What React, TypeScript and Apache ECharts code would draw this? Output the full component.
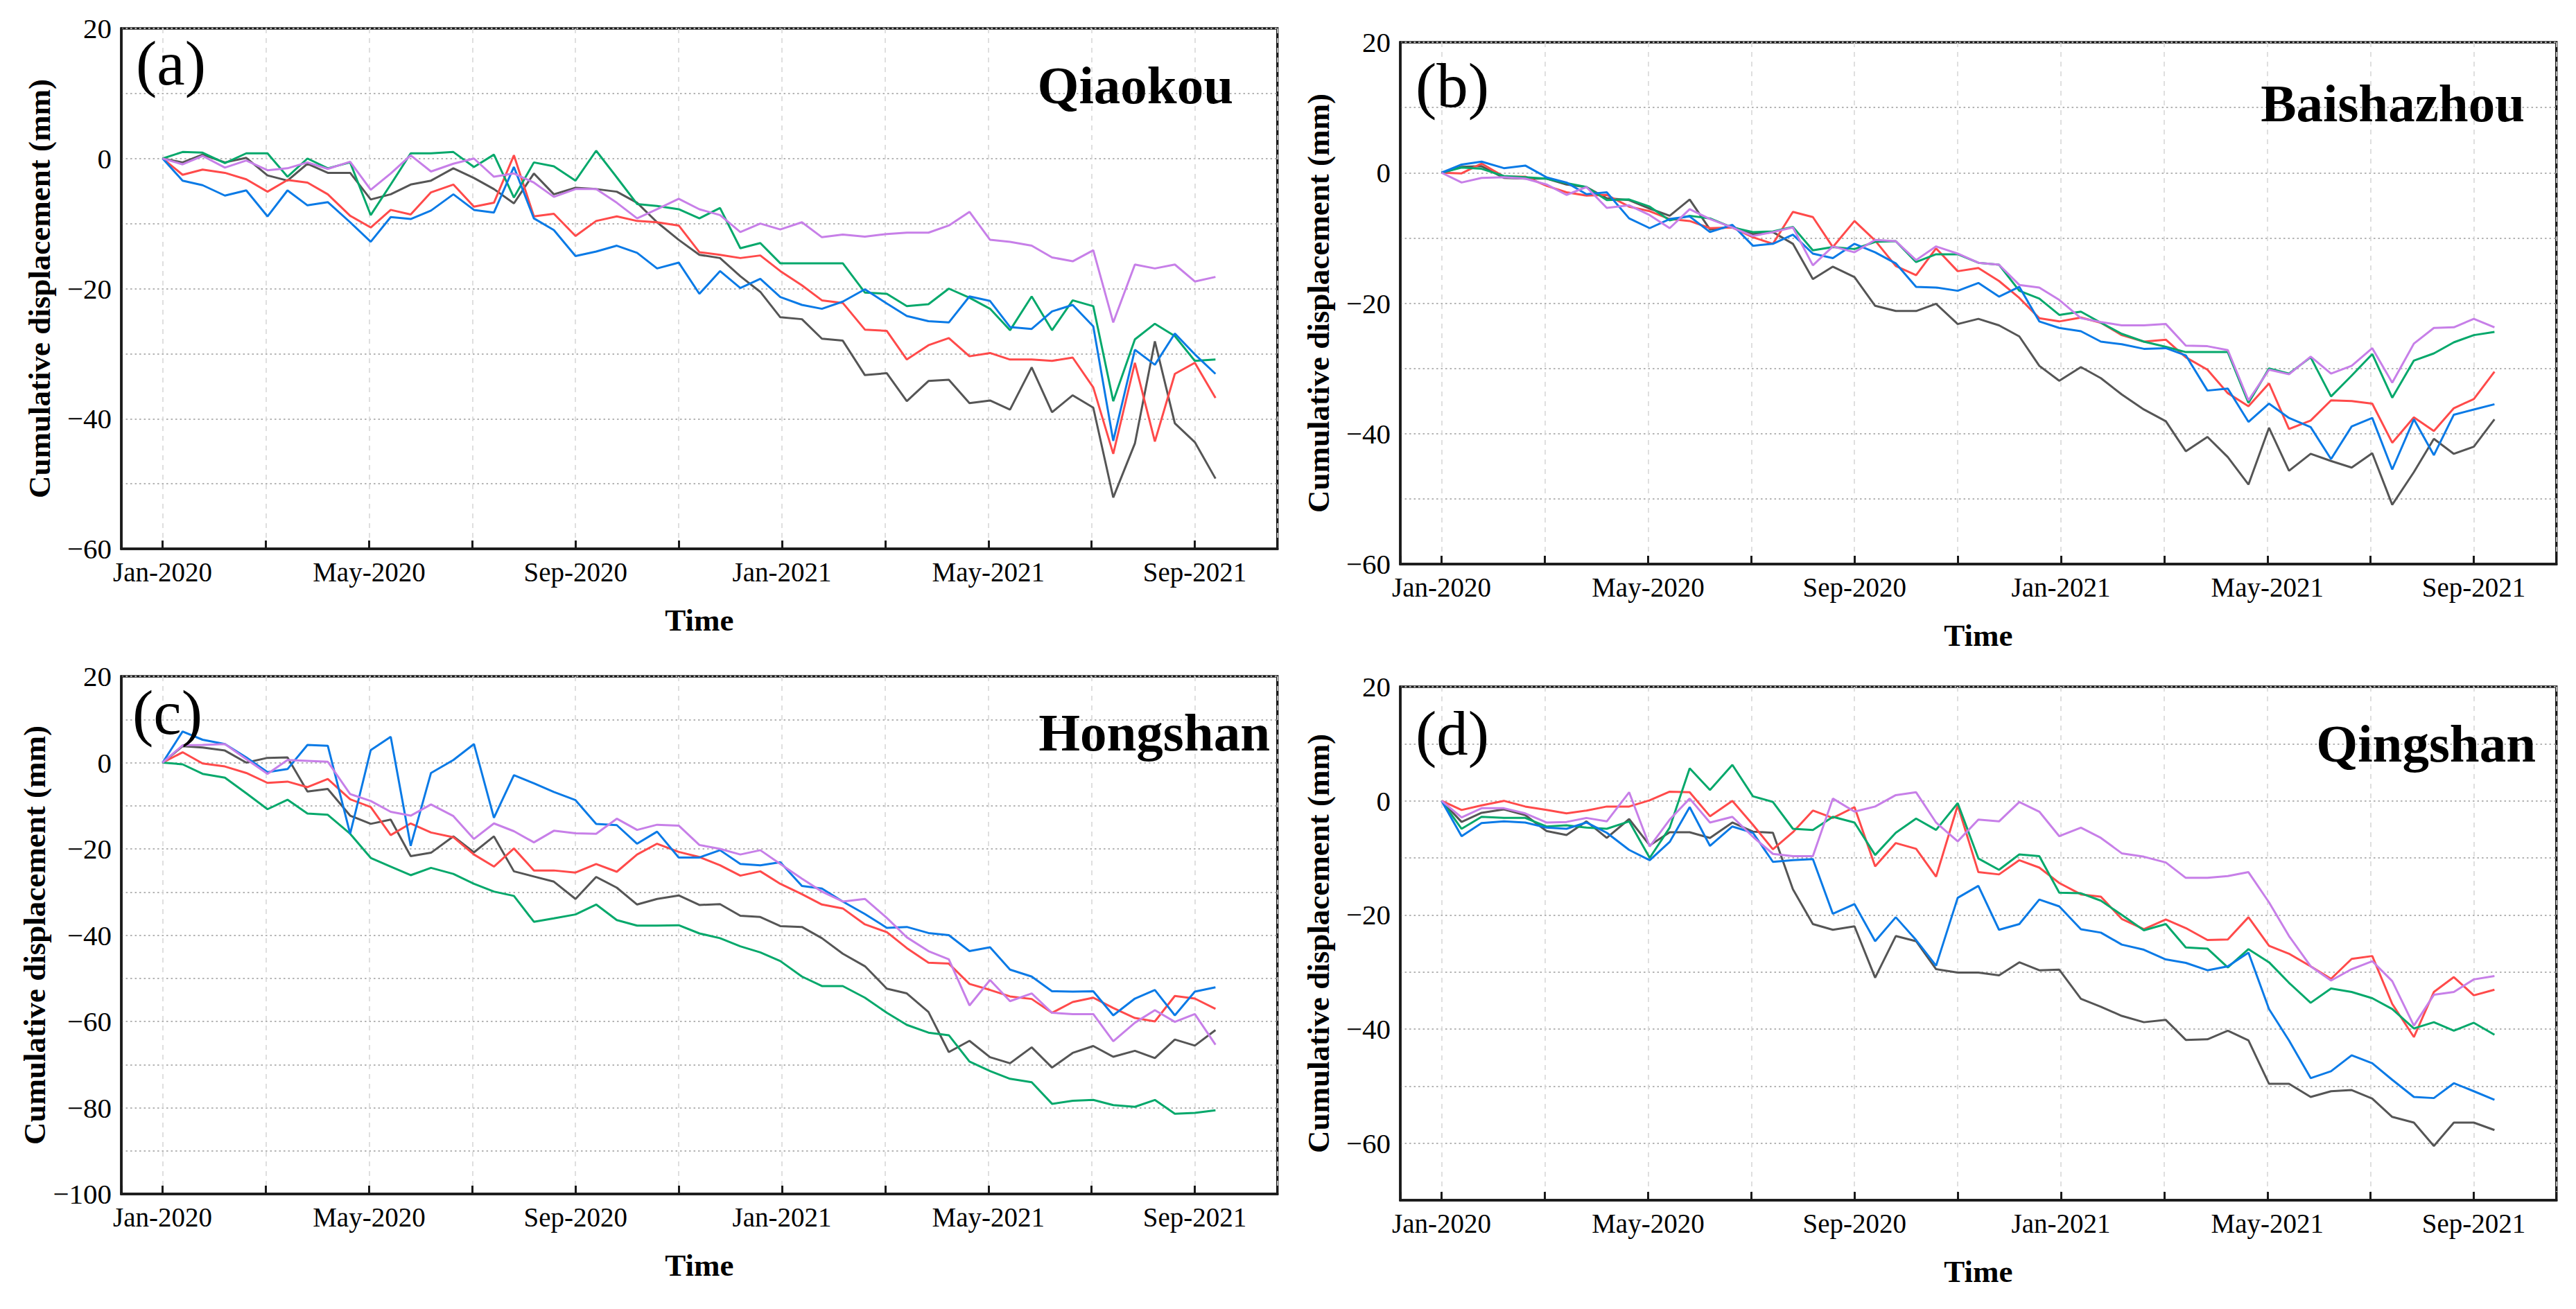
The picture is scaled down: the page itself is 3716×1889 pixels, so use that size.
import React, { useEffect, useRef } from 'react';
import * as echarts from 'echarts';

// Acquisition dates: days after 2020-01-01
const DAY_OFFSETS = [0,12,24,37,49,61,73,85,97,110,122,134,146,158,171,183,195,207,219,231,244,256,268,280,292,305,317,329,341,353,365,378,390,402,414,426,438,451,463,475,487,499,512,524,536,548,560,573,585,597,609,621];

const MONTH_NAMES = ['Jan','Feb','Mar','Apr','May','Jun','Jul','Aug','Sep','Oct','Nov','Dec'];
const STATIONS = ['Qiaokou', 'Baishazhou', 'Hongshan', 'Qingshan'];
const PANEL_TAGS = ['(a)', '(b)', '(c)', '(d)'];
const Y_MINS = [-60, -60, -100, -70];
const Y_MAX = 20;

// Panel (a) Qiaokou
const A_GRAY = [0,-0.6,0.6,-0.6,0.1,-2.6,-3.4,-0.8,-2.2,-2.2,-6.3,-5.5,-4.0,-3.4,-1.5,-3.0,-4.7,-6.9,-2.3,-5.5,-4.5,-4.7,-5.1,-6.8,-9.8,-12.5,-14.8,-15.3,-18.1,-20.5,-24.4,-24.7,-27.7,-28.0,-33.3,-33.0,-37.3,-34.2,-34.0,-37.6,-37.2,-38.6,-32.1,-39.0,-36.4,-38.3,-52.1,-43.8,-28.1,-40.7,-43.6,-49.2];
const A_RED = [0,-2.5,-1.7,-2.2,-3.2,-5.1,-3.3,-3.7,-5.5,-8.8,-10.6,-7.9,-8.6,-5.2,-4.0,-7.4,-6.8,0.5,-8.9,-8.5,-11.9,-9.6,-8.9,-9.6,-9.8,-10.3,-14.4,-14.8,-15.3,-14.9,-17.3,-19.5,-21.8,-22.2,-26.3,-26.5,-30.9,-28.7,-27.6,-30.4,-29.9,-30.9,-30.9,-31.1,-30.6,-35.2,-45.4,-31.4,-43.5,-33.1,-31.4,-36.8];
const A_GREEN = [0,1.0,0.9,-0.7,0.8,0.8,-2.8,0,-1.5,-0.6,-8.7,-4.0,0.8,0.8,1.0,-1.3,0.6,-6.0,-0.6,-1.2,-3.4,1.2,-2.9,-7.0,-7.3,-7.8,-9.2,-7.6,-13.8,-13.0,-16.1,-16.1,-16.1,-16.1,-20.6,-20.8,-22.7,-22.4,-20.0,-21.4,-23.1,-26.4,-21.2,-26.4,-21.8,-22.7,-37.3,-27.8,-25.4,-27.3,-31.1,-30.9];
const A_BLUE = [0,-3.4,-4.1,-5.7,-4.9,-8.9,-4.9,-7.2,-6.7,-9.8,-12.8,-9.0,-9.3,-8.0,-5.5,-7.9,-8.3,-1.3,-9.2,-11.0,-15.0,-14.3,-13.4,-14.5,-16.9,-16.0,-20.8,-17.3,-19.9,-18.5,-21.3,-22.5,-23.1,-22.0,-20.1,-22.3,-24.2,-25.0,-25.2,-21.2,-21.9,-25.9,-26.2,-23.5,-22.5,-25.8,-43.4,-29.4,-31.7,-26.9,-30.1,-33.1];
const A_PURPLE = [0,-0.9,0.4,-1.4,-0.3,-1.8,-1.5,-0.6,-1.6,-0.5,-4.8,-2.3,0.5,-2.0,-0.8,0,-2.8,-2.3,-3.7,-5.9,-4.7,-4.7,-6.8,-9.2,-7.8,-6.2,-7.8,-8.7,-11.3,-10.0,-10.9,-9.8,-12.1,-11.7,-12.0,-11.6,-11.4,-11.4,-10.3,-8.2,-12.5,-12.8,-13.4,-15.2,-15.8,-14.1,-25.2,-16.3,-16.9,-16.3,-18.9,-18.2];

// Panel (b) Baishazhou
const B_GRAY = [0,0.9,1.0,-0.8,-0.9,-0.9,-1.8,-2.2,-3.9,-4.2,-5.5,-6.6,-4.1,-8.7,-8.3,-9.4,-9.1,-10.9,-16.3,-14.4,-16.0,-20.4,-21.2,-21.2,-20.1,-23.2,-22.4,-23.4,-25.1,-29.6,-31.9,-29.8,-31.5,-34.0,-36.3,-38.1,-42.7,-40.5,-43.6,-47.8,-39.1,-45.7,-43.1,-44.2,-45.2,-43.0,-50.9,-45.9,-40.8,-43.1,-42.0,-37.8];
const B_RED = [0,-0.1,1.4,-0.6,-0.6,-2.0,-3.0,-3.5,-3.4,-5.2,-5.9,-7.1,-7.4,-8.5,-8.4,-9.9,-10.9,-6.0,-6.8,-11.4,-7.4,-10.4,-14.3,-15.7,-11.6,-15.1,-14.6,-16.6,-19.2,-22.3,-22.8,-22.2,-23.0,-24.9,-25.9,-25.6,-28.3,-30.2,-33.8,-35.8,-32.3,-39.3,-38.0,-34.9,-35.0,-35.4,-41.4,-37.5,-39.6,-36.1,-34.7,-30.5];
const B_GREEN = [0,0.8,0.6,-0.5,-0.7,-0.9,-1.6,-2.2,-4.2,-4.1,-5.2,-7.3,-6.6,-7.0,-8.4,-9.1,-9.0,-8.3,-11.9,-11.4,-11.7,-10.6,-10.5,-13.7,-12.5,-12.5,-13.8,-14.1,-18.1,-19.3,-21.8,-21.3,-23.0,-24.7,-25.9,-26.7,-27.5,-27.5,-27.5,-35.3,-30.0,-30.8,-28.3,-34.3,-31.1,-27.8,-34.5,-28.8,-27.7,-26.0,-24.9,-24.4];
const B_BLUE = [0,1.25,1.7,0.7,1.1,-0.7,-1.5,-3.3,-3.0,-7.0,-8.5,-7.1,-6.7,-9.1,-8.0,-11.2,-10.9,-9.5,-12.4,-13.1,-10.9,-12.2,-13.9,-17.5,-17.6,-18.1,-16.9,-19.0,-17.5,-22.8,-23.8,-24.3,-25.9,-26.3,-27.0,-26.9,-28.0,-33.4,-33.1,-38.2,-35.4,-37.6,-39.0,-43.9,-38.9,-37.6,-45.5,-37.8,-43.3,-37.1,-36.3,-35.5];
const B_PURPLE = [0,-1.5,-0.8,-0.7,-0.9,-1.8,-3.4,-2.2,-5.4,-5.0,-6.5,-8.5,-5.6,-7.1,-8.4,-9.7,-9.1,-8.4,-14.2,-11.3,-12.2,-10.3,-10.5,-13.4,-11.3,-12.4,-13.8,-14.1,-17.2,-17.6,-19.5,-22.3,-22.9,-23.4,-23.4,-23.2,-26.5,-26.6,-27.2,-34.9,-30.2,-30.9,-28.2,-30.8,-29.6,-26.9,-32.2,-26.2,-23.8,-23.7,-22.4,-23.7];

// Panel (c) Hongshan
const C_GRAY = [0,3.8,3.5,2.8,0,1.1,1.2,-6.7,-6.1,-12.3,-14.2,-13.2,-21.7,-20.9,-17.1,-20.8,-17.1,-25.2,-26.4,-27.6,-31.6,-26.5,-29.0,-32.9,-31.6,-30.8,-33.0,-32.8,-35.5,-35.8,-37.9,-38.1,-40.7,-44.3,-47.2,-52.4,-53.5,-57.8,-67.1,-64.5,-68.3,-69.7,-66.0,-70.7,-67.3,-65.7,-68.2,-66.8,-68.5,-64.2,-65.6,-62.0];
const C_RED = [0,2.4,-0.2,-0.9,-2.4,-4.7,-4.4,-5.7,-3.8,-8.5,-10.3,-16.8,-14.1,-16.2,-17.3,-21.3,-24.1,-19.9,-25.0,-25.0,-25.5,-23.5,-25.3,-21.3,-18.8,-20.7,-21.9,-23.8,-26.2,-25.2,-28.1,-30.5,-32.9,-33.8,-37.5,-39.3,-43.0,-46.4,-46.6,-51.3,-52.7,-54.2,-54.8,-58.0,-55.5,-54.5,-56.9,-59.2,-60.0,-54.1,-54.7,-57.1];
const C_GREEN = [0,-0.4,-2.6,-3.5,-7.1,-10.8,-8.6,-11.8,-12.1,-16.5,-22.1,-24.1,-26.1,-24.4,-25.8,-28.1,-29.9,-30.9,-36.9,-36.1,-35.2,-32.9,-36.5,-37.8,-37.8,-37.7,-39.6,-40.7,-42.6,-44.0,-46.0,-49.6,-51.8,-51.8,-54.5,-58.0,-60.8,-62.6,-63.2,-69.3,-71.5,-73.3,-74.1,-79.1,-78.4,-78.2,-79.4,-79.8,-78.2,-81.4,-81.2,-80.6];
const C_BLUE = [0,7.2,5.3,4.3,1.2,-2.2,-1.5,4.1,3.9,-16.5,2.9,6.0,-19.3,-2.4,0.6,4.3,-12.8,-2.9,-4.8,-6.8,-8.7,-14.2,-14.5,-18.8,-16.0,-22.0,-22.0,-20.3,-23.5,-23.8,-23.1,-28.6,-29.2,-32.2,-35.1,-38.3,-38.1,-39.5,-40.0,-43.7,-42.8,-48.0,-49.6,-53.0,-53.1,-53.0,-58.6,-54.7,-52.7,-58.6,-53.1,-52.1];
const C_PURPLE = [0,4.0,4.1,4.3,0.8,-2.6,0.6,0.4,0.2,-7.3,-8.9,-11.4,-12.3,-9.7,-12.4,-17.7,-14.1,-15.9,-18.5,-15.8,-16.4,-16.5,-13.0,-15.6,-14.4,-14.6,-19.1,-20.0,-21.3,-20.3,-23.5,-26.9,-29.9,-32.2,-31.6,-36.0,-40.5,-43.7,-45.6,-56.3,-50.4,-55.3,-53.5,-58.0,-58.3,-58.3,-64.6,-60.3,-57.4,-60.1,-58.3,-65.4];

// Panel (d) Qingshan
const D_GRAY = [0,-3.7,-2.1,-1.5,-2.5,-5.3,-6.0,-3.6,-6.5,-3.2,-7.8,-5.5,-5.5,-6.5,-3.8,-5.4,-5.6,-15.5,-21.6,-22.6,-22.0,-31.0,-23.7,-24.6,-29.5,-30.1,-30.1,-30.6,-28.3,-29.7,-29.6,-34.7,-36.1,-37.7,-38.8,-38.4,-41.9,-41.8,-40.3,-42.0,-49.6,-49.6,-51.9,-50.9,-50.7,-52.2,-55.4,-56.4,-60.5,-56.4,-56.4,-57.7];
const D_RED = [0,-1.6,-0.8,0,-1.0,-1.6,-2.2,-1.7,-1.0,-1.0,0.1,1.6,1.5,-2.7,0,-4.2,-8.5,-5.5,-1.7,-3.0,-1.1,-11.5,-7.4,-8.4,-13.3,-0.8,-12.5,-12.9,-10.4,-11.7,-14.4,-16.4,-16.8,-20.7,-22.5,-20.8,-22.3,-24.4,-24.3,-20.4,-25.4,-26.8,-29.0,-31.2,-27.7,-27.2,-35.6,-41.4,-33.5,-30.9,-34.1,-33.1];
const D_GREEN = [0,-4.9,-2.8,-3.0,-3.0,-4.5,-4.3,-4.7,-4.9,-3.6,-10.0,-4.7,5.7,1.9,6.3,0.8,-0.2,-4.9,-5.1,-2.8,-3.8,-9.5,-5.6,-3.1,-5.1,-0.4,-10.1,-12.1,-9.4,-9.7,-16.1,-16.2,-17.5,-20.0,-22.7,-21.6,-25.7,-25.9,-29.2,-26.0,-28.3,-31.9,-35.4,-32.9,-33.5,-34.6,-36.5,-39.9,-38.8,-40.3,-38.9,-41.0];
const D_BLUE = [0,-6.2,-3.9,-3.6,-3.8,-4.7,-4.9,-3.8,-5.6,-8.6,-10.4,-7.2,-1.1,-7.9,-4.5,-5.6,-10.7,-10.4,-10.2,-19.8,-18.1,-24.6,-20.4,-24.4,-28.9,-17.0,-14.9,-22.6,-21.6,-17.3,-18.5,-22.5,-23.1,-25.2,-26.1,-27.8,-28.4,-29.7,-29.0,-26.6,-36.5,-42.0,-48.6,-47.4,-44.6,-46.0,-48.9,-51.9,-52.1,-49.5,-50.9,-52.4];
const D_PURPLE = [0,-2.9,-1.3,-1.3,-2.2,-3.8,-3.7,-3.0,-3.6,1.5,-8.0,-3.3,0.4,-3.8,-2.8,-6.3,-9.3,-9.7,-9.7,0.4,-1.9,-1.0,1.0,1.5,-3.8,-7.1,-3.3,-3.6,-0.2,-1.9,-6.2,-4.7,-6.5,-9.2,-9.8,-10.8,-13.5,-13.5,-13.2,-12.5,-17.8,-23.7,-29.0,-31.5,-29.5,-28.1,-31.6,-39.4,-34.0,-33.5,-31.3,-30.7];

const PANEL_SERIES = [
  [A_GRAY, A_RED, A_GREEN, A_BLUE, A_PURPLE],
  [B_GRAY, B_RED, B_GREEN, B_BLUE, B_PURPLE],
  [C_GRAY, C_RED, C_GREEN, C_BLUE, C_PURPLE],
  [D_GRAY, D_RED, D_GREEN, D_BLUE, D_PURPLE],
];

// ---------- layout & style (not data) ----------
const W = 3716;
const H = 1889;
const COLORS = ['#555555', '#ff4a4a', '#05a86b', '#0a7ae6', '#c77fe8'];
const SERIF = "'Liberation Serif', 'Times New Roman', serif";
const X_MIN = -0.8;
const X_MAX = 21.6;
const PX_PER_MONTH = 74.45;
const JAN2020_X = [234.6, 2079.6, 234.6, 2079.6];
const GRID_V = [
  { top: 41, height: 751 },
  { top: 61, height: 753 },
  { top: 976, height: 747 },
  { top: 991, height: 741 },
];
const TAG_POS = [
  { x: 196, y: 91 },
  { x: 2042, y: 123 },
  { x: 191, y: 1028 },
  { x: 2042, y: 1058 },
];
const STATION_POS = [
  { x: 1779, y: 123 },
  { x: 3642, y: 149 },
  { x: 1832, y: 1057 },
  { x: 3658, y: 1073 },
];

function monthCoord(dayOffset: number): number {
  const t = Date.UTC(2020, 0, 1) + dayOffset * 86400000;
  const d = new Date(t);
  const y = d.getUTCFullYear();
  const m = d.getUTCMonth();
  const dim = new Date(Date.UTC(y, m + 1, 0)).getUTCDate();
  return (y - 2020) * 12 + m + (d.getUTCDate() - 1) / dim;
}

function fmtNum(v: number): string {
  return v < 0 ? '\u2212' + Math.abs(v) : String(v);
}

function buildOption() {
  const xs = DAY_OFFSETS.map(monthCoord);
  const grid: any[] = [];
  const xAxis: any[] = [];
  const yAxis: any[] = [];
  const series: any[] = [];
  const graphic: any[] = [];

  GRID_V.forEach((gv, i) => {
    const left = JAN2020_X[i] + X_MIN * PX_PER_MONTH;
    const width = (X_MAX - X_MIN) * PX_PER_MONTH;
    grid.push({
      left, top: gv.top, width, height: gv.height,
      show: true, borderColor: '#1a1a1a', borderWidth: 3.5, backgroundColor: 'transparent',
      containLabel: false,
    });
    xAxis.push({
      type: 'value', gridIndex: i, min: X_MIN, max: X_MAX,
      minInterval: 2, maxInterval: 2,
      name: 'Time', nameLocation: 'middle', nameGap: 80,
      nameTextStyle: { fontFamily: SERIF, fontWeight: 'bold', fontSize: 45, color: '#000' },
      axisLine: { show: true, onZero: false, lineStyle: { color: '#1a1a1a', width: 3.5 } },
      axisTick: { show: true, inside: true, length: 12, lineStyle: { color: '#1a1a1a', width: 3 } },
      axisLabel: {
        fontFamily: SERIF, fontSize: 39, color: '#000', margin: 14,
        formatter: (v: number) => {
          const r = Math.round(v);
          if (Math.abs(v - r) > 1e-6 || r % 4 !== 0) return '';
          return MONTH_NAMES[((r % 12) + 12) % 12] + '-' + (2020 + Math.floor(r / 12));
        },
      },
      splitLine: { show: true, lineStyle: { color: '#d8d8d8', width: 1.6, type: [7, 7] } },
    });
    yAxis.push({
      type: 'value', gridIndex: i, min: Y_MINS[i], max: Y_MAX, interval: 10,
      name: 'Cumulative displacement (mm)', nameLocation: 'middle', nameGap: 96, nameRotate: 90,
      nameTextStyle: { fontFamily: SERIF, fontWeight: 'bold', fontSize: 45, color: '#000' },
      axisLine: { show: true, onZero: false, lineStyle: { color: '#1a1a1a', width: 3.5 } },
      axisTick: { show: false },
      axisLabel: {
        fontFamily: SERIF, fontSize: 41, color: '#000', margin: 14,
        formatter: (v: number) => (Math.round(v) % 20 === 0 ? fmtNum(Math.round(v)) : ''),
      },
      splitLine: { show: true, lineStyle: { color: '#b3b3b3', width: 2.2, type: [2.5, 4] } },
    });
    PANEL_SERIES[i].forEach((vals, s) => {
      series.push({
        type: 'line', xAxisIndex: i, yAxisIndex: i,
        data: vals.map((v, k) => [xs[k], v]),
        showSymbol: false, symbol: 'none',
        lineStyle: { color: COLORS[s], width: 3 },
        itemStyle: { color: COLORS[s] },
        z: 2 + s,
      });
    });
    graphic.push({
      type: 'text', x: TAG_POS[i].x, y: TAG_POS[i].y, z: 100,
      style: { text: PANEL_TAGS[i], font: `91px ${SERIF}`, fill: '#000', align: 'left', verticalAlign: 'middle' },
    });
    graphic.push({
      type: 'text', x: STATION_POS[i].x, y: STATION_POS[i].y, z: 100,
      style: {
        text: STATIONS[i], font: `bold 77px ${SERIF}`, fill: '#000',
        align: 'right', verticalAlign: 'middle',
      },
    });
  });

  return {
    animation: false,
    backgroundColor: '#ffffff',
    textStyle: { fontFamily: SERIF },
    grid, xAxis, yAxis, series, graphic,
  };
}

export default function App() {
  const ref = useRef<HTMLDivElement>(null);
  useEffect(() => {
    if (!ref.current) return;
    const chart = echarts.init(ref.current, undefined, { renderer: 'svg', width: W, height: H });
    chart.setOption(buildOption() as any);
    return () => chart.dispose();
  }, []);
  return (
    <div
      ref={ref}
      style={{ position: 'absolute', left: 0, top: 0, width: W, height: H, background: '#fff' }}
    />
  );
}
